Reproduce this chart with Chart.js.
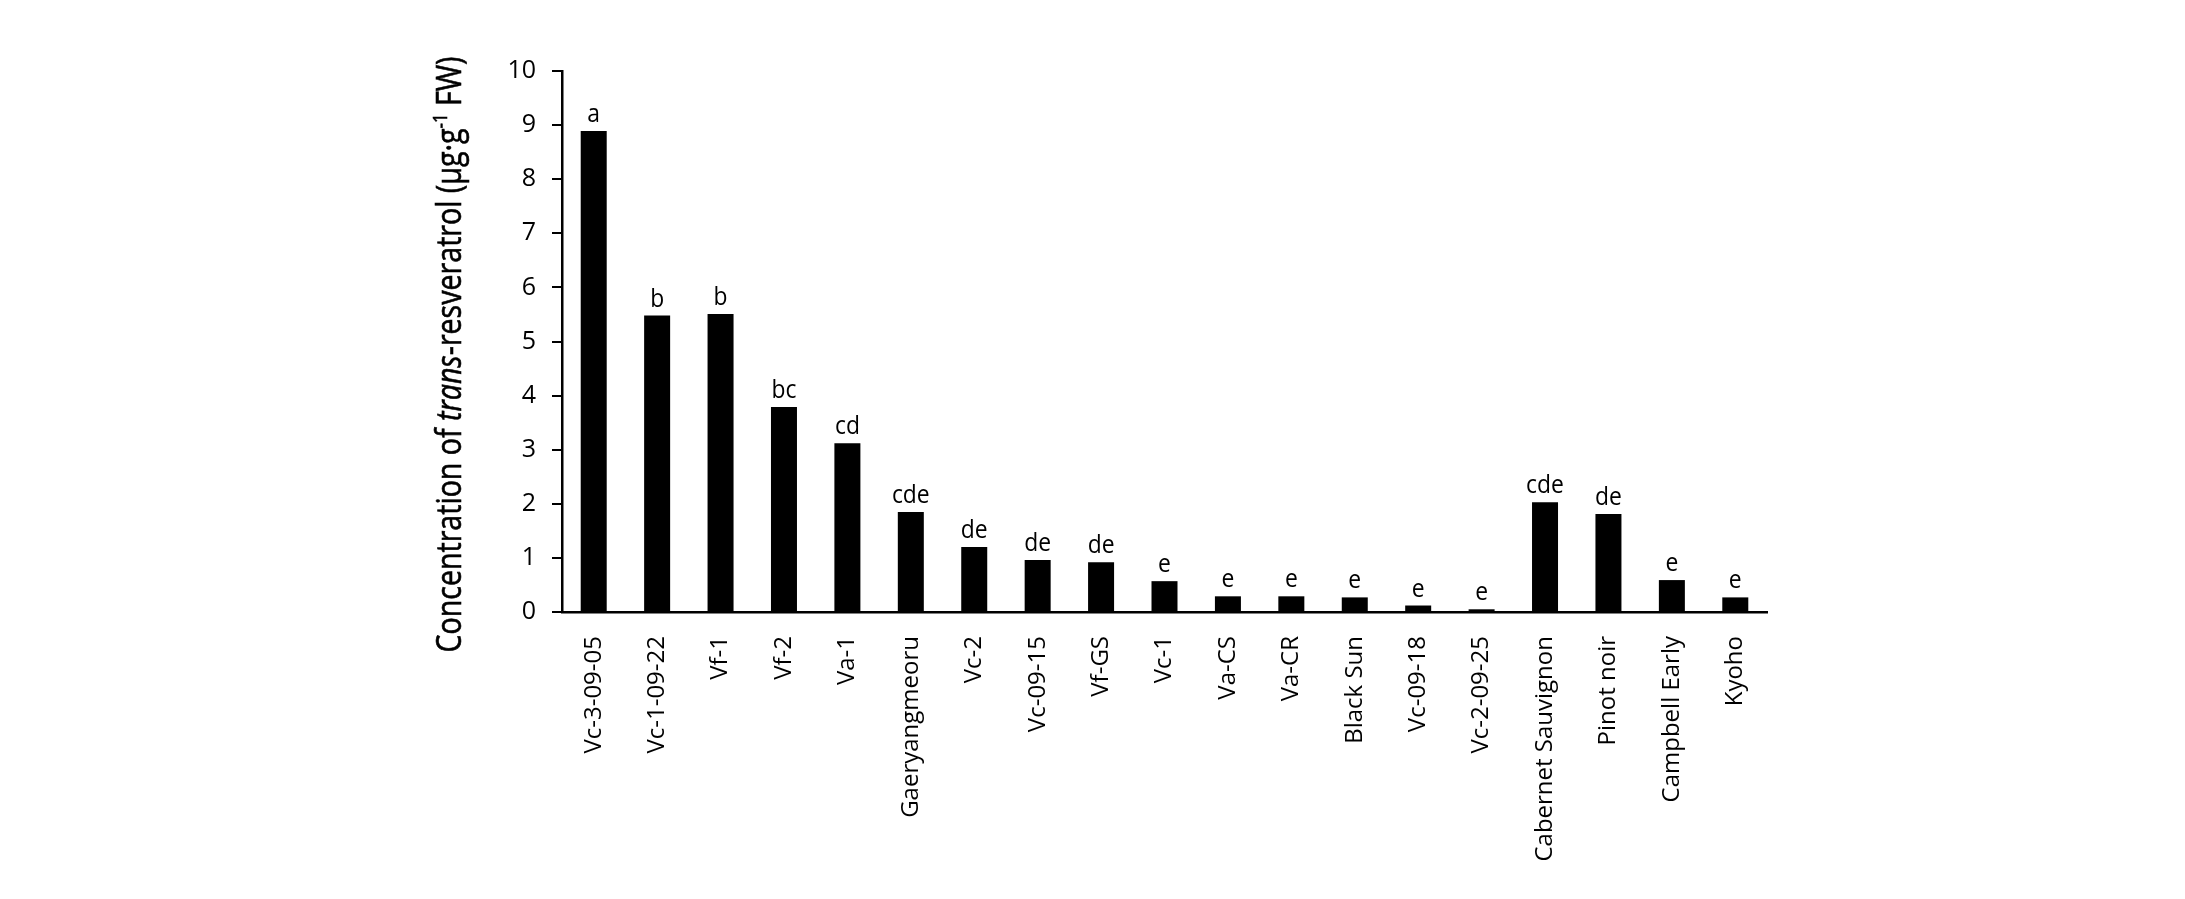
<!DOCTYPE html>
<html>
<head>
<meta charset="utf-8">
<script src="https://cdn.jsdelivr.net/npm/chart.js@4"></script>
<style>
    body { margin: 0; background: #fff; }
</style>
</head>
<body>
<canvas id="myChart" width="2185" height="899"></canvas>
<script>
const cultivars = ['Vc-3-09-05', 'Vc-1-09-22', 'Vf-1', 'Vf-2', 'Va-1', 'Gaeryangmeoru', 'Vc-2', 'Vc-09-15', 'Vf-GS', 'Vc-1', 'Va-CS', 'Va-CR', 'Black Sun', 'Vc-09-18', 'Vc-2-09-25', 'Cabernet Sauvignon', 'Pinot noir', 'Campbell Early', 'Kyoho'];
const resveratrol = [8.89, 5.48, 5.51, 3.79, 3.12, 1.85, 1.20, 0.96, 0.92, 0.57, 0.29, 0.29, 0.27, 0.12, 0.05, 2.03, 1.81, 0.59, 0.27];
const letters = ['a', 'b', 'b', 'bc', 'cd', 'cde', 'de', 'de', 'de', 'e', 'e', 'e', 'e', 'e', 'e', 'cde', 'de', 'e', 'e'];
const yTicks = [0, 1, 2, 3, 4, 5, 6, 7, 8, 9, 10];

const FONT = "'Open Sans', 'Noto Sans', sans-serif";

// letters above the bars
const letterPlugin = {
    id: 'letters',
    afterDatasetsDraw(chart) {
        const c = chart.ctx;
        const bars = chart.getDatasetMeta(0).data;
        c.save();
        c.fillStyle = '#000';
        c.font = '26px ' + FONT;
        c.textAlign = 'center';
        c.textBaseline = 'alphabetic';
        bars.forEach((bar, i) => {
            c.save();
            c.translate(bar.x, bar.y - 9);
            c.scale(0.88, 1);
            c.fillText(letters[i], 0, 0);
            c.restore();
        });
        c.restore();
    }
};

// y axis title with italic "trans" and superscript -1
const titlePlugin = {
    id: 'ytitle',
    afterDraw(chart) {
        const c = chart.ctx;
        const area = chart.chartArea;
        const parts = [
            { t: 'Concentration of ', f: '34px ' + FONT, dy: 0 },
            { t: 'trans', f: 'italic 34px ' + FONT, dy: 0 },
            { t: '-resveratrol (\u00b5g\u00b7g', f: '34px ' + FONT, dy: 0 },
            { t: '-1', f: '20px ' + FONT, dy: -14 },
            { t: ' FW)', f: '34px ' + FONT, dy: 0 }
        ];
        c.save();
        let total = 0;
        parts.forEach(p => { c.font = p.f; p.w = c.measureText(p.t).width; total += p.w; });
        const target = 596;
        c.translate(area.left - 101, (area.top + area.bottom) / 2 + 13);
        c.rotate(-Math.PI / 2);
        c.scale(target / total, 1);
        c.fillStyle = '#000';
        c.strokeStyle = '#000';
        c.lineWidth = 0.6;
        c.textBaseline = 'alphabetic';
        let x = -total / 2;
        parts.forEach(p => {
            c.font = p.f;
            c.fillText(p.t, x, p.dy);
            c.strokeText(p.t, x, p.dy);
            x += p.w;
        });
        c.restore();
    }
};

var ctx = document.getElementById('myChart').getContext('2d');

var myChart = new Chart(ctx, {
    type: 'bar',
    data: {
        labels: cultivars,
        datasets: [
            {
                label: 'trans-resveratrol',
                data: resveratrol,
                backgroundColor: '#000',
                borderWidth: 0,
                barPercentage: 0.41,
                categoryPercentage: 1
            }
        ]
    },
    options: {
        responsive: false,
        animation: false,
        layout: {
            padding: { left: 0, right: 418, top: 71, bottom: 0 }
        },
        plugins: {
            legend: { display: false },
            tooltip: { enabled: false }
        },
        scales: {
            x: {
                grid: { display: false },
                border: { display: true, color: '#000', width: 2.5 },
                ticks: {
                    color: '#000',
                    font: { family: FONT, size: 24 },
                    minRotation: 90,
                    maxRotation: 90,
                    autoSkip: false,
                    padding: 16
                },
                afterFit: (s) => { s.height = 287; }
            },
            y: {
                min: 0,
                max: 10,
                afterBuildTicks: (s) => { s.ticks = yTicks.map(v => ({ value: v })); },
                grid: {
                    drawOnChartArea: false,
                    color: '#000',
                    lineWidth: 2,
                    tickLength: 10
                },
                border: { display: true, color: '#000', width: 2.5 },
                ticks: {
                    color: '#000',
                    font: { family: FONT, size: 25 },
                    padding: 16
                },
                afterFit: (s) => { s.width = 562; }
            }
        }
    },
    plugins: [letterPlugin, titlePlugin]
});
</script>
</body>
</html>
